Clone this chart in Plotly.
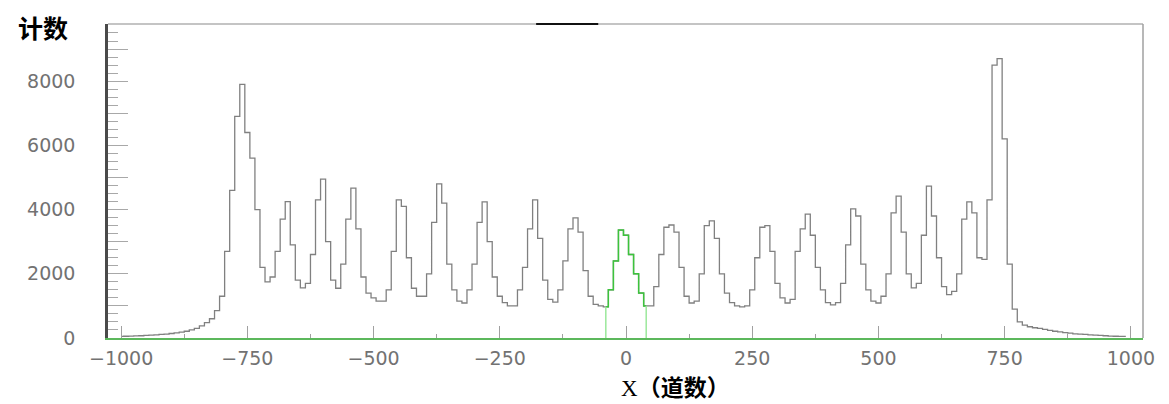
import numpy as np
import plotly.graph_objects as go

# ---- data ----
CHANNEL_START = -1000
CHANNEL_STEP = 10
counts = [
    50, 55, 60, 65, 70, 80, 90, 100, 110, 120,
    140, 160, 180, 210, 250, 300, 380, 480, 600, 850,
    1300, 2700, 4600, 6900, 7900, 6400, 5600, 4000, 2200, 1750,
    1900, 2700, 3700, 4250, 2900, 1800, 1560, 1700, 2600, 4300,
    4950, 3000, 1800, 1550, 2300, 3700, 4670, 3400, 1900, 1400,
    1250, 1150, 1150, 1500, 2700, 4300, 4100, 2500, 1550, 1300,
    1300, 2000, 3600, 4800, 4200, 2300, 1500, 1150, 1090, 1500,
    2300, 3600, 4240, 3000, 1900, 1300, 1100, 1000, 1000, 1500,
    2200, 3400, 4300, 3100, 1800, 1200, 1120, 1500, 2400, 3400,
    3740, 3300, 2100, 1300, 1050, 1000, 970, 1500, 2400, 3360,
    3200, 2600, 2000, 1400, 1000, 1000, 1600, 2600, 3450, 3520,
    3300, 2200, 1300, 1090, 1150, 2000, 3500, 3650, 3100, 2000,
    1400, 1100, 1000, 970, 1000, 1500, 2500, 3450, 3500, 2700,
    1700, 1250, 1090, 1200, 2700, 3400, 3860, 3200, 2200, 1500,
    1100, 1030, 1100, 1700, 2900, 4020, 3800, 2300, 1500, 1150,
    1090, 1300, 2000, 3900, 4420, 3300, 2000, 1560, 1700, 3200,
    4730, 3800, 2500, 1600, 1350, 1450, 2000, 3700, 4240, 3900,
    2500, 2450, 4300, 8500, 8700, 6200, 2300, 900, 500, 400,
    350, 320, 300, 270, 240, 210, 190, 170, 150, 130,
    120, 110, 100, 90, 80, 70, 60, 55, 50, 50,
]
channels = [CHANNEL_START + CHANNEL_STEP * i for i in range(len(counts))]

GATE_LOW, GATE_HIGH = -40, 40          # green highlighted region
X_TICKS = [-1000, -750, -500, -250, 0, 250, 500, 750, 1000]
Y_TICKS = [0, 1000, 2000, 3000, 4000, 5000, 6000, 7000, 8000, 9000]
Y_TICK_TEXT = ["0", "", "2000", "", "4000", "", "6000", "", "8000", ""]
TOP_MARK = (-178, -55)                 # short dark segment on the top frame

x_title = "X（道数）"
y_title = "计数"

# ---- figure ----
fig = go.Figure()
fig.add_trace(go.Scatter(
    x=channels, y=counts, mode="lines", line_shape="hvh",
    line=dict(color="#808080", width=1.3), hoverinfo="skip", showlegend=False))

gx = [c for c in channels if GATE_LOW <= c <= GATE_HIGH]
gy = [v for c, v in zip(channels, counts) if GATE_LOW <= c <= GATE_HIGH]
fig.add_trace(go.Scatter(
    x=gx, y=gy, mode="lines", line_shape="hvh",
    line=dict(color="#3cc43c", width=1.5), hoverinfo="skip", showlegend=False))
for gxv, gyv in ((gx[0], gy[0]), (gx[-1], gy[-1])):
    fig.add_trace(go.Scatter(
        x=[gxv, gxv], y=[0, gyv], mode="lines",
        line=dict(color="#9be89b", width=1.5), hoverinfo="skip", showlegend=False))

tickfont = dict(family="DejaVu Sans", size=19, color="#727272")
fig.update_xaxes(
    range=[-1026, 1024], showgrid=False, zeroline=False,
    showline=True, linecolor="#5cb85c", linewidth=1.5,
    tickvals=X_TICKS, ticks="inside", ticklen=12, tickcolor="#a0a0a0", tickwidth=1,
    minor=dict(dtick=125, tick0=0, ticks="inside", ticklen=4, tickcolor="#a0a0a0"),
    tickfont=tickfont, ticklabelstandoff=2)
fig.update_yaxes(
    range=[0, 9780], showgrid=False, zeroline=False,
    showline=True, linecolor="#4a4a4a", linewidth=2.5,
    tickvals=Y_TICKS, ticktext=Y_TICK_TEXT, ticks="inside", ticklen=20,
    tickcolor="#a8a8a8", tickwidth=1,
    minor=dict(dtick=250, tick0=0, ticks="inside", ticklen=10, tickcolor="#a8a8a8"),
    tickfont=tickfont, ticklabelstandoff=26)

# the page body has an 8px margin, so the figure is sized to fit the window
fig.update_layout(
    width=1161, height=396,
    margin=dict(l=100, r=26, t=16, b=66),
    plot_bgcolor="white", paper_bgcolor="white",
    shapes=[
        dict(type="line", xref="paper", yref="paper", x0=0, x1=1, y0=1, y1=1,
             line=dict(color="#b0b0b0", width=1.5)),
        dict(type="line", xref="paper", yref="paper", x0=1, x1=1, y0=0, y1=1,
             line=dict(color="#a0a0a0", width=1.5)),
        dict(type="line", xref="x", yref="paper", x0=TOP_MARK[0], x1=TOP_MARK[1], y0=1, y1=1,
             line=dict(color="#111111", width=2)),
    ],
    annotations=[
        dict(text="<b>" + y_title + "</b>", xref="paper", yref="paper",
             x=-0.063, y=0.99, xanchor="center", yanchor="middle", showarrow=False,
             font=dict(family="Noto Sans CJK SC", size=25, color="#000000")),
        dict(text="<span style='font-family:Liberation Serif'>X</span><b>（道数）</b>",
             xref="paper", yref="paper", x=0.548, y=-0.153,
             xanchor="center", yanchor="middle", showarrow=False,
             font=dict(family="Noto Sans CJK SC", size=23, color="#000000")),
    ],
)

fig.write_html("out.html")
